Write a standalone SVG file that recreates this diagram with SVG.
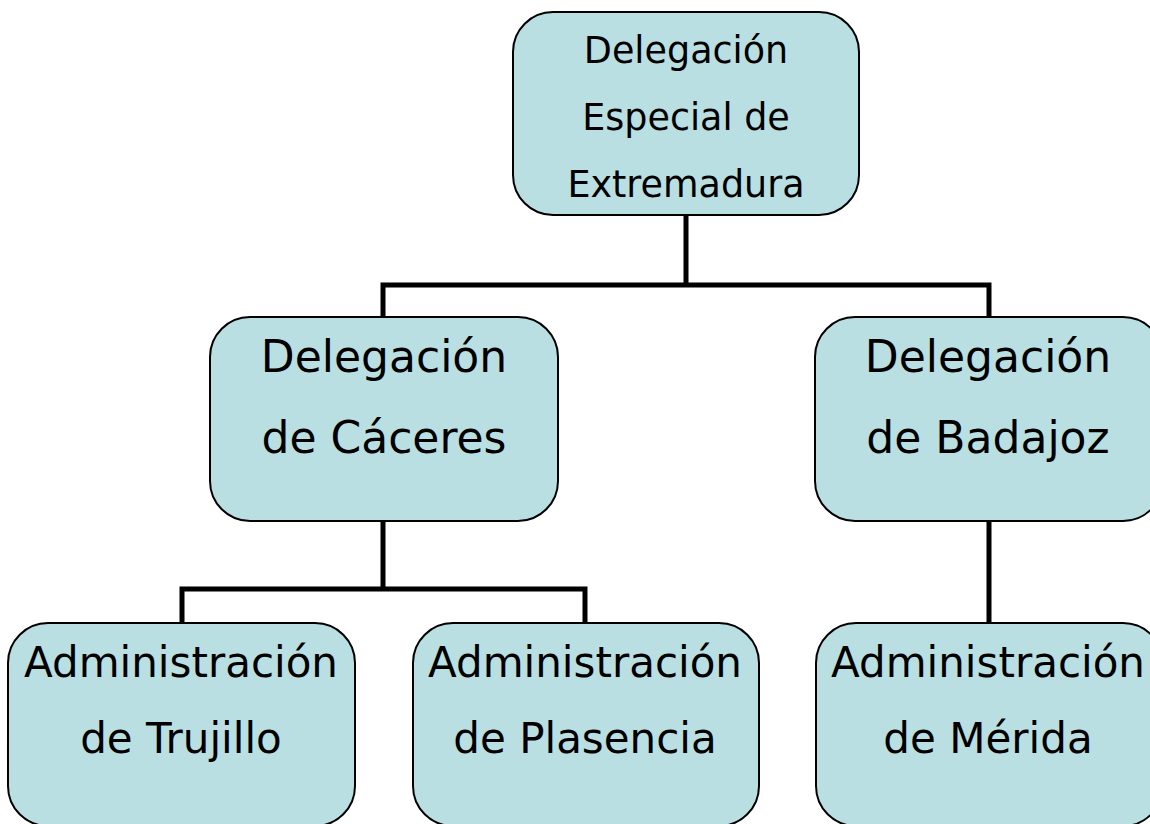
<svg xmlns="http://www.w3.org/2000/svg" width="1150" height="824" viewBox="0 0 1150 824">
<style>
.box{fill:#badfe3;stroke:#000;stroke-width:2}
.t{font-family:"DejaVu Sans",Verdana,sans-serif;fill:#000;text-anchor:middle}
.s{font-size:36.5px}
.m{font-size:44px}
.l{font-size:42px}
.c{fill:none;stroke:#000;stroke-width:5;stroke-linejoin:miter}
</style>
<rect width="1150" height="824" fill="#fff"/>
<g id="connectors">
<path class="c" d="M686,215 V285 M383,285 H989 M383,282.5 V317 M989,282.5 V317"/>
<path class="c" d="M383,521 V589 M182,589 H585 M182,586.5 V623 M585,586.5 V623"/>
<path class="c" d="M989,521 V623"/>
</g>
<g id="n-extremadura">
<rect class="box" x="513" y="12" width="346" height="203" rx="40"/>
<text class="t s" x="686" y="63">Delegación</text>
<text class="t s" x="686" y="130">Especial de</text>
<text class="t s" x="686" y="197">Extremadura</text>
</g>
<g id="n-caceres">
<rect class="box" x="210" y="317" width="348" height="204" rx="40"/>
<text class="t m" x="384" y="372">Delegación</text>
<text class="t m" x="384" y="453">de Cáceres</text>
</g>
<g id="n-badajoz">
<rect class="box" x="815" y="317" width="348" height="204" rx="40"/>
<text class="t m" x="988" y="372">Delegación</text>
<text class="t m" x="988" y="453">de Badajoz</text>
</g>
<g id="n-trujillo">
<rect class="box" x="8" y="623" width="347" height="203" rx="40"/>
<text class="t l" x="181" y="677">Administración</text>
<text class="t l" x="181" y="753">de Trujillo</text>
</g>
<g id="n-plasencia">
<rect class="box" x="413" y="623" width="346" height="203" rx="40"/>
<text class="t l" x="585" y="677">Administración</text>
<text class="t l" x="585" y="753">de Plasencia</text>
</g>
<g id="n-merida">
<rect class="box" x="816" y="623" width="347" height="203" rx="40"/>
<text class="t l" x="988" y="677">Administración</text>
<text class="t l" x="988" y="753">de Mérida</text>
</g>
</svg>
